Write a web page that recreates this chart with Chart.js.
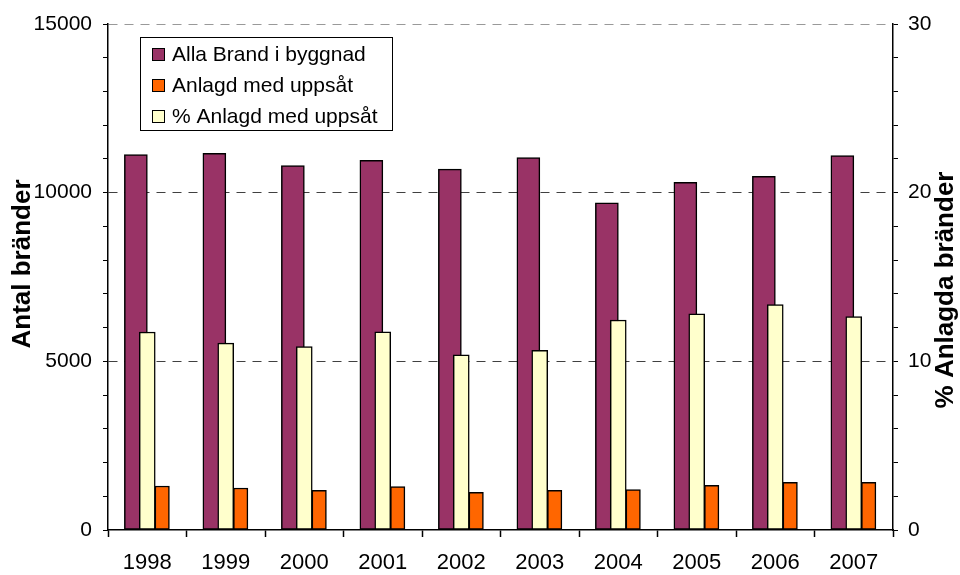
<!DOCTYPE html>
<html lang="sv">
<head>
<meta charset="UTF-8">
<title>Bränder i byggnad 1998-2007</title>
<script src="https://cdn.jsdelivr.net/npm/chart.js"></script>
<style>
  html, body { margin: 0; padding: 0; background: #fff; }
</style>
</head>
<body>
<canvas id="chart" width="960" height="575"></canvas>
<script>
const years = ['1998', '1999', '2000', '2001', '2002', '2003', '2004', '2005', '2006', '2007'];
const allaBrand = [11130, 11165, 10800, 10960, 10700, 11040, 9700, 10305, 10485, 11100];
const anlagd = [1305, 1245, 1175, 1285, 1115, 1175, 1195, 1325, 1410, 1410];
const andelAnlagd = [11.74, 11.08, 10.88, 11.75, 10.39, 10.65, 12.45, 12.82, 13.37, 12.66];

const FONT = "'Liberation Sans', Arial, sans-serif";

// the bars are not centred in their year like Chart.js groups them,
// so each series gets its own hidden x axis moved a bit sideways
function barAxis(shift) {
    return {
        type: 'linear',
        display: false,
        offset: false,
        bounds: 'data',
        min: +years[0] - 0.5 + shift,
        max: +years[years.length - 1] + 0.5 + shift
    };
}

const boxLegend = {
    id: 'boxLegend',
    afterDraw(chart) {
        const ctx = chart.ctx;
        ctx.save();
        ctx.fillStyle = '#fff';
        ctx.fillRect(140, 37, 252, 93);
        ctx.strokeStyle = '#000';
        ctx.lineWidth = 1;
        ctx.strokeRect(140.5, 37.5, 252, 93);
        ctx.font = '21px ' + FONT;
        ctx.textBaseline = 'middle';
        chart.data.datasets.forEach((ds, i) => {
            const y = 54 + i * 31;
            ctx.fillStyle = ds.backgroundColor;
            ctx.fillRect(152, y - 6, 13, 13);
            ctx.strokeRect(152.5, y - 5.5, 12, 12);
            ctx.fillStyle = '#000';
            ctx.fillText(ds.label, 172, y + 1);
        });
        ctx.restore();
    }
};

const axisTitles = {
    id: 'axisTitles',
    afterDraw(chart) {
        const ctx = chart.ctx;
        ctx.save();
        ctx.font = 'bold 26px ' + FONT;
        ctx.fillStyle = '#000';
        ctx.textAlign = 'center';
        ctx.textBaseline = 'middle';
        [['Antal bränder', 23, 264], ['% Anlagda bränder', 946, 290]].forEach(([t, x, y]) => {
            ctx.save();
            ctx.translate(x, y);
            ctx.rotate(-Math.PI / 2);
            ctx.fillText(t, 0, 0);
            ctx.restore();
        });
        ctx.restore();
    }
};

// not grouped: each bar sits at its own axis value, width capped by maxBarThickness
const barStyle = {
    borderColor: '#000',
    borderWidth: 1.5,
    borderSkipped: false,
    grouped: false,
    barPercentage: 1,
    categoryPercentage: 1
};

new Chart(document.getElementById('chart'), {
    type: 'bar',
    data: {
        labels: years,
        datasets: [
            { ...barStyle, label: 'Alla Brand i byggnad', data: allaBrand, backgroundColor: '#993366',
              xAxisID: 'xa', yAxisID: 'y', maxBarThickness: 23, order: 3 },
            { ...barStyle, label: 'Anlagd med uppsåt', data: anlagd, backgroundColor: '#FF6600',
              xAxisID: 'xo', yAxisID: 'y', maxBarThickness: 14.5, order: 2 },
            { ...barStyle, label: '% Anlagd med uppsåt', data: andelAnlagd, backgroundColor: '#FFFFCC',
              xAxisID: 'xc', yAxisID: 'y2', maxBarThickness: 16, order: 1 }
        ]
    },
    options: {
        responsive: false,
        animation: false,
        layout: { padding: { top: 24, left: 0, right: 0, bottom: 0 } },
        plugins: {
            legend: { display: false },
            tooltip: { enabled: false }
        },
        scales: {
            x: {
                type: 'category',
                position: 'bottom',
                offset: true,
                grid: { offset: true, drawOnChartArea: false, tickLength: 7, tickColor: '#000', tickWidth: 1.5 },
                border: { color: '#000', width: 1.5 },
                ticks: { color: '#000', font: { family: FONT, size: 22 }, padding: 13, maxRotation: 0, autoSkip: false },
                afterFit(s) { s.height = 45; }
            },
            xa: barAxis(0.145),
            xc: barAxis(0),
            xo: barAxis(-0.19),
            y: {
                position: 'left',
                min: 0,
                max: 15000,
                ticks: {
                    stepSize: 1000,
                    autoSkip: false,
                    color: '#000',
                    font: { family: FONT, size: 21 },
                    padding: 11,
                    callback: v => v % 5000 === 0 ? v : ''
                },
                grid: {
                    color: c => {
                        const v = c.tick ? c.tick.value : 0;
                        if (v === 5000 || v === 10000) return '#404040';
                        if (v === 15000) return '#999';
                        return 'rgba(0,0,0,0)';
                    },
                    tickColor: '#000',
                    tickLength: 5,
                    lineWidth: 1
                },
                border: { color: '#000', width: 1.5, dash: [9, 7] },
                afterFit(s) { s.width = 108; }
            },
            y2: {
                position: 'right',
                min: 0,
                max: 30,
                ticks: {
                    stepSize: 2,
                    autoSkip: false,
                    color: '#000',
                    font: { family: FONT, size: 21 },
                    padding: 10,
                    callback: v => v % 10 === 0 ? v : ''
                },
                grid: { drawOnChartArea: false, tickColor: '#000', tickLength: 5 },
                border: { color: '#000', width: 1.5 },
                afterFit(s) { s.width = 67; }
            }
        }
    },
    plugins: [boxLegend, axisTitles]
});
</script>
</body>
</html>
